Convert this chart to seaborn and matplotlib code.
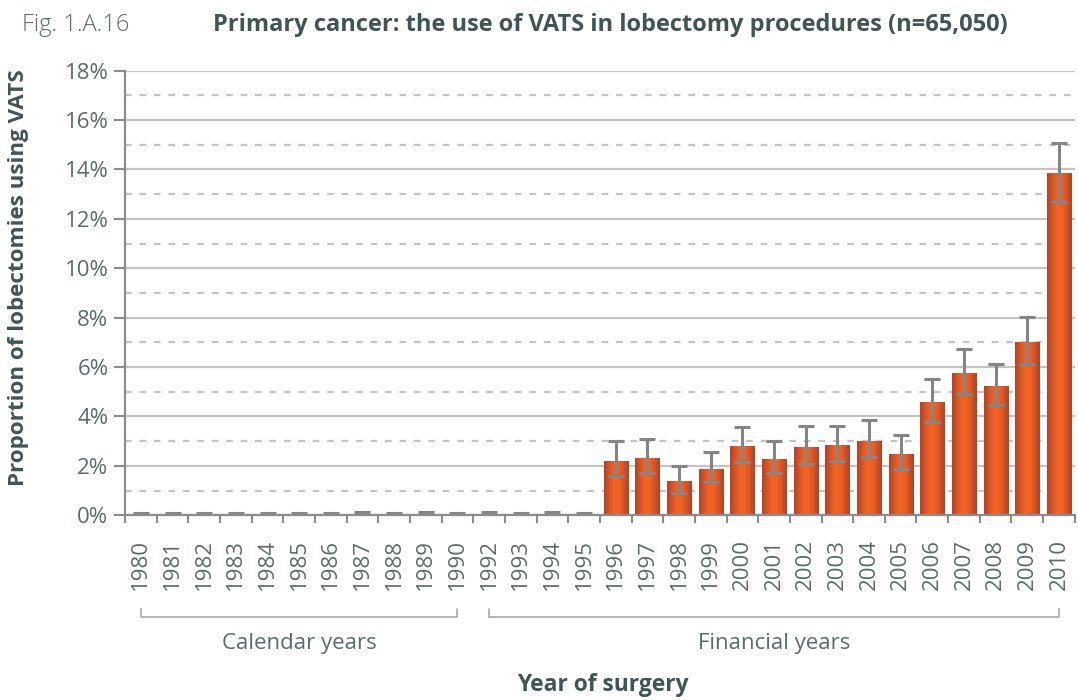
import numpy as np
import pandas as pd
import matplotlib
matplotlib.use("Agg")
import matplotlib.pyplot as plt
import matplotlib.transforms as mtransforms
from matplotlib.colors import LinearSegmentedColormap
from matplotlib.ticker import MultipleLocator, FuncFormatter
import seaborn as sns

# data
years = ['1980', '1981', '1982', '1983', '1984', '1985', '1986', '1987', '1988', '1989', '1990',
         '1992', '1993', '1994', '1995', '1996', '1997', '1998', '1999', '2000', '2001', '2002',
         '2003', '2004', '2005', '2006', '2007', '2008', '2009', '2010']
pct_vats = [0, 0, 0, 0, 0, 0, 0, 0, 0, 0, 0,
            0, 0, 0, 0, 2.2, 2.3, 1.38, 1.86, 2.8, 2.27, 2.76,
            2.84, 3.0, 2.49, 4.58, 5.76, 5.23, 7.01, 13.86]
ci_low = [0, 0, 0, 0, 0, 0, 0, 0, 0, 0, 0,
          0, 0, 0, 0, 1.57, 1.69, 0.91, 1.34, 2.14, 1.69, 2.09,
          2.2, 2.34, 1.86, 3.77, 4.89, 4.45, 6.12, 12.69]
ci_high = [0.1, 0.1, 0.1, 0.1, 0.1, 0.1, 0.1, 0.13, 0.1, 0.13, 0.1,
           0.13, 0.1, 0.12, 0.1, 3.0, 3.07, 1.99, 2.55, 3.57, 2.99, 3.6,
           3.61, 3.84, 3.23, 5.5, 6.73, 6.13, 8.03, 15.09]
groups = [("Calendar years", '1980', '1990'), ("Financial years", '1992', '2010')]

df = pd.DataFrame({"year": years, "pct": pct_vats, "lo": ci_low, "hi": ci_high})

sns.set_theme(style="white")
plt.rcParams['font.family'] = ['Open Sans', 'DejaVu Sans']

txt = "#5b6b6b"
dark = "#3f5656"
grid_c = "#c4c4c4"

fig = plt.figure(figsize=(10.78, 7.0), dpi=100)
ax = fig.add_axes([0.116, 0.264, 0.881, 0.635])

sns.barplot(data=df, x="year", y="pct", color="#ec6125", width=0.76,
            errorbar=None, ax=ax, zorder=3, linewidth=0)

# cylinder-like shading on each bar
shade = LinearSegmentedColormap.from_list(
    "shade", ["#b0452b", "#d65427", "#f06524", "#ee6224", "#d65326", "#ad4428"])
grad = np.linspace(0, 1, 64).reshape(1, -1)
for p in ax.patches:
    x0, w, h = p.get_x(), p.get_width(), p.get_height()
    if h <= 0:
        continue
    im = ax.imshow(grad, extent=[x0, x0 + w, 0, h], aspect="auto", cmap=shade,
                   zorder=3.5, interpolation="bilinear")
    im.set_clip_path(p)

xpos = np.arange(len(df))
ax.errorbar(xpos, df["pct"], yerr=[df["pct"] - df["lo"], df["hi"] - df["pct"]],
            fmt="none", ecolor="#858585", elinewidth=2.2, capsize=5.5, capthick=2.2, zorder=5)

ax.set_xlim(-0.5, len(df) - 0.5)
ax.set_ylim(0, 18)

ax.yaxis.set_major_locator(MultipleLocator(2))
ax.yaxis.set_minor_locator(MultipleLocator(1))
ax.yaxis.set_major_formatter(FuncFormatter(lambda v, _: f"{v:.0f}%"))
ax.grid(axis="y", which="major", color=grid_c, linewidth=1.6, zorder=0)
ax.grid(axis="y", which="minor", color=grid_c, linewidth=1.6, linestyle=(0, (3, 3.5)), zorder=0)
ax.set_axisbelow(True)

ax.set_xticks(xpos)
ax.set_xticklabels(years, rotation=90)
ax.set_xticks(np.arange(-0.5, len(df), 1), minor=True)
ax.tick_params(axis="x", which="major", length=0, pad=17, labelsize=16, labelcolor=txt)
ax.tick_params(axis="x", which="minor", length=6, width=1.5, color="#8c8c8c", direction="out", bottom=True)
ax.tick_params(axis="y", which="major", length=8, width=1.5, color="#8c8c8c", direction="out",
               left=True, labelsize=16, labelcolor=txt, pad=4)
ax.tick_params(axis="y", which="minor", length=0)

for s in ["top", "right"]:
    ax.spines[s].set_visible(False)
for s in ["left", "bottom"]:
    ax.spines[s].set_color("#8c8c8c")
    ax.spines[s].set_linewidth(1.6)
    ax.spines[s].set_zorder(6)

# group brackets under the tick labels
tr = mtransforms.blended_transform_factory(ax.transData, ax.transAxes)
for label, first, last in groups:
    a, b = years.index(first), years.index(last)
    ax.plot([a, a, b, b], [-0.212, -0.229, -0.229, -0.212], transform=tr, color="#a8a8a8",
            lw=1.2, clip_on=False)
    ax.text((a + b) / 2, -0.288, label, transform=tr, ha="center", va="center",
            fontsize=16, color=txt)

ax.set_xlabel("")
ax.set_ylabel("")
fig.text(0.017, 0.604, "Proportion of lobectomies using VATS", rotation=90, ha="center",
         va="center", fontsize=16.1, fontweight="bold", color=dark)
fig.text(0.559, 0.021, "Year of surgery", ha="center", va="center", fontsize=16.4,
         fontweight="bold", color=dark)
fig.text(0.02, 0.964, "Fig. 1.A.16", ha="left", va="center", fontsize=17,
         fontweight="light", color=txt)
fig.text(0.566, 0.964, "Primary cancer: the use of VATS in lobectomy procedures (n=65,050)",
         ha="center", va="center", fontsize=17, fontweight="bold", color=dark)

fig.savefig("out.png", dpi=100)
